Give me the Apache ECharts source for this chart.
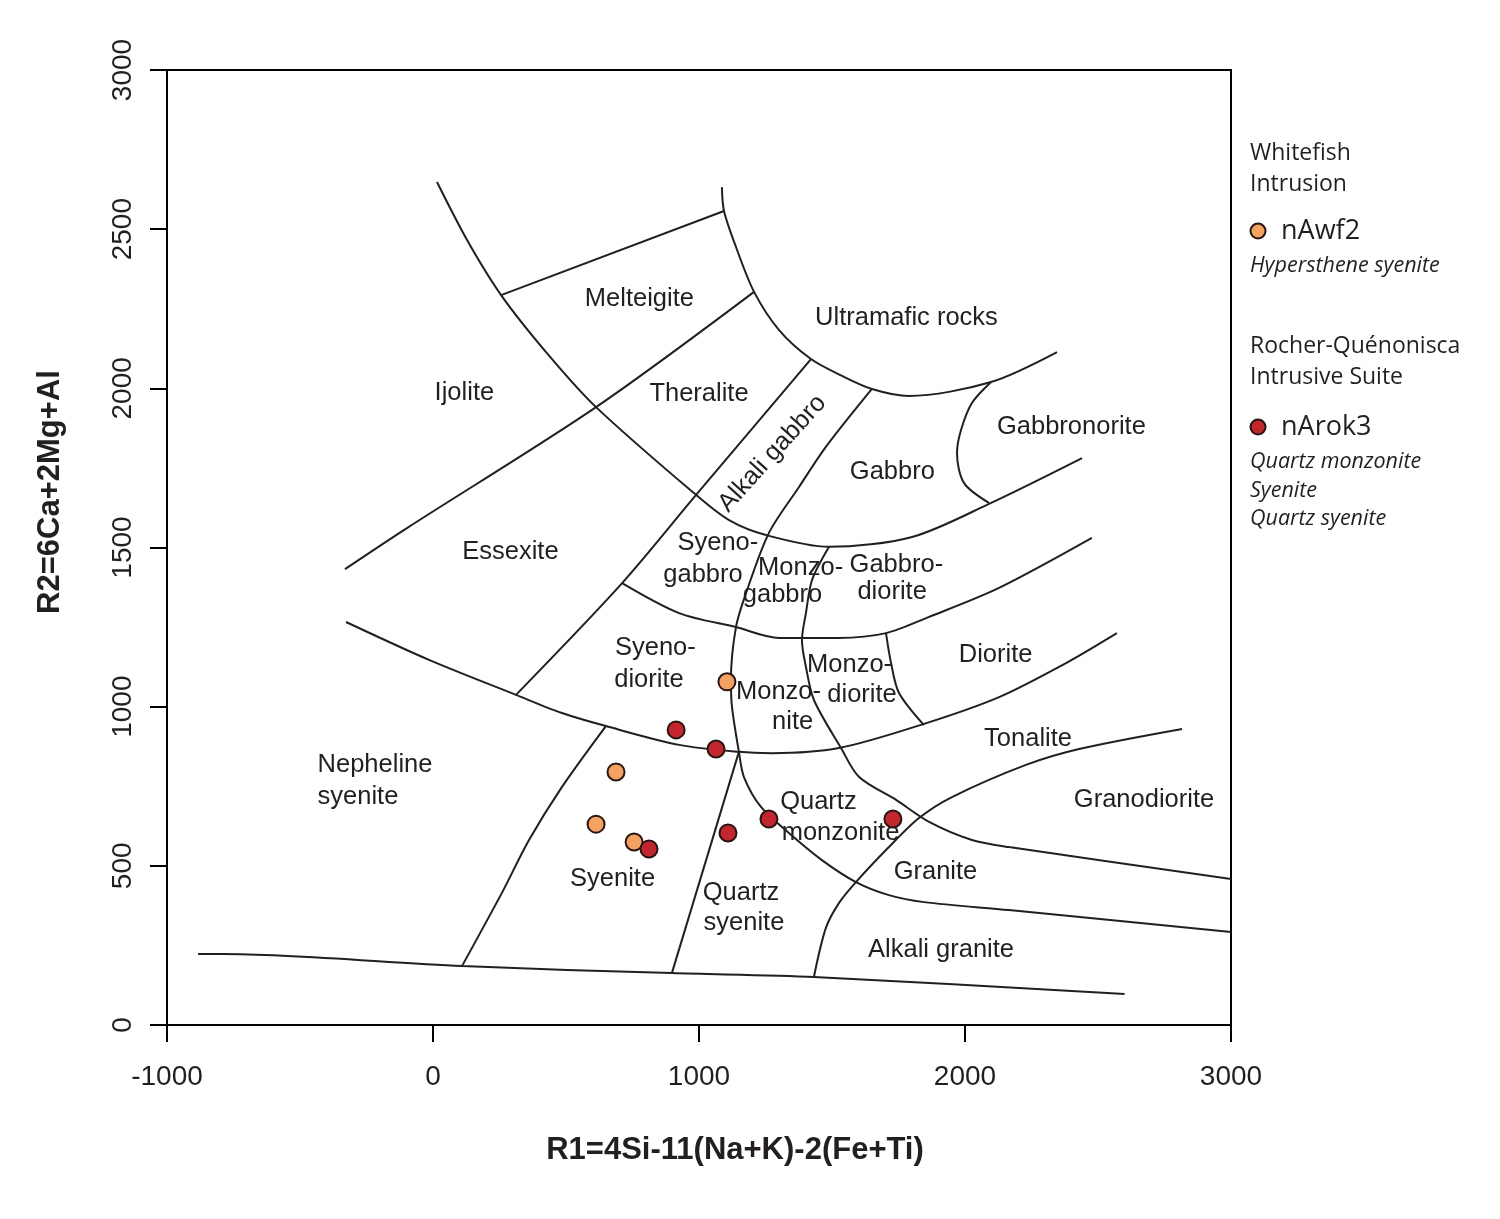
<!DOCTYPE html>
<html>
<head>
<meta charset="utf-8">
<title>R1-R2 diagram</title>
<script src="https://cdn.jsdelivr.net/npm/echarts@6/dist/echarts.min.js"></script>
<style>
  html, body { margin: 0; padding: 0; background: #fff; }
  #chart { width: 1500px; height: 1219px; }
</style>
</head>
<body>
<div id="chart"></div>
<script>
// axis ticks
const xTicks = [-1000, 0, 1000, 2000, 3000];
const yTicks = [0, 500, 1000, 1500, 2000, 2500, 3000];

// field boundaries, [R1, R2]
const baseLine = [[-883, 223], [-793, 223], [109, 185], [898, 163], [1432, 151], [2600, 97]];
const ijoliteCurve = [[15, 2648], [128, 2466], [256, 2293], [425, 2114], [613, 1941], [989, 1665],
  [1113, 1586], [1252, 1539], [1489, 1502], [1801, 1533], [2090, 1637], [2440, 1781]];
const melteigiteTop = [[256, 2293], [1094, 2557]];
const ultramaficCurve = [[1086, 2632], [1094, 2557], [1139, 2444], [1207, 2303], [1301, 2183],
  [1421, 2092], [1538, 2039], [1650, 1998], [1789, 1976], [2098, 2020], [2346, 2114]];
const theraliteBase = [[-331, 1432], [-98, 1561], [613, 1941], [1207, 2303]];
const alkaliGabbroLeft = [[1421, 2092], [989, 1665], [711, 1388], [312, 1037]];
const alkaliGabbroRight = [[1650, 1998], [1477, 1816], [1376, 1690], [1263, 1546], [1177, 1357],
  [1139, 1250], [1120, 1084], [1124, 999], [1150, 858], [1169, 779], [1233, 685], [1338, 603],
  [1462, 518], [1590, 449], [1714, 408], [1846, 386], [2165, 361], [3000, 292]];
const monzogabbroRight = [[1489, 1502], [1425, 1398], [1402, 1294], [1387, 1209], [1402, 1125],
  [1432, 1021], [1534, 870], [1602, 779], [1741, 707], [1865, 638], [2026, 581], [2165, 559], [3000, 459]];
const syenodioriteTop = [[711, 1388], [925, 1294], [1139, 1250], [1301, 1216], [1526, 1216],
  [1703, 1231], [1865, 1282], [2128, 1373], [2477, 1530]];
const dioriteLeft = [[1703, 1231], [1722, 1137], [1752, 1043], [1846, 942]];
const nephelineTop = [[-327, 1266], [-15, 1147], [312, 1037], [485, 980], [650, 939], [925, 880],
  [1150, 858], [1274, 854], [1526, 870], [1846, 946], [2128, 1030], [2380, 1137], [2571, 1231]];
const syeniteLeft = [[650, 939], [485, 748], [361, 581], [259, 415], [109, 185]];
const quartzSyeniteLeft = [[1150, 858], [898, 163]];
const tonaliteBase = [[1432, 151], [1477, 305], [1526, 383], [1590, 449], [1714, 559], [1827, 650],
  [1951, 716], [2229, 817], [2429, 867], [2816, 930]];
const gabbronoriteLeft = [[2098, 2020], [2026, 1954], [1985, 1869], [1970, 1797], [1996, 1703], [2090, 1640]];

const boundaries = [baseLine, ijoliteCurve, melteigiteTop, ultramaficCurve, theraliteBase,
  alkaliGabbroLeft, alkaliGabbroRight, monzogabbroRight, syenodioriteTop, dioriteLeft,
  nephelineTop, syeniteLeft, quartzSyeniteLeft, tonaliteBase, gabbronoriteLeft];

// field names, one entry per text line: [R1, R2, text]
const fieldNames = [
  [776, 2281, 'Melteigite'], [1780, 2221, 'Ultramafic rocks'], [118, 1985, 'Ijolite'],
  [1000, 1982, 'Theralite'], [2400, 1879, 'Gabbronorite'], [1727, 1737, 'Gabbro'],
  [291, 1486, 'Essexite'], [1071, 1514, 'Syeno-'], [1015, 1414, 'gabbro'],
  [1382, 1436, 'Monzo-'], [1314, 1351, 'gabbro'], [1742, 1445, 'Gabbro-'], [1726, 1360, 'diorite'],
  [836, 1184, 'Syeno-'], [812, 1084, 'diorite'], [1299, 1046, 'Monzo-'], [1352, 952, 'nite'],
  [1566, 1131, 'Monzo-'], [1613, 1037, 'diorite'], [2115, 1162, 'Diorite'], [2237, 898, 'Tonalite'],
  [-218, 817, 'Nepheline'], [-282, 716, 'syenite'], [2673, 707, 'Granodiorite'],
  [1449, 701, 'Quartz'], [1532, 603, 'monzonite'], [1158, 415, 'Quartz'], [1169, 320, 'syenite'],
  [675, 459, 'Syenite'], [1889, 481, 'Granite'], [1910, 236, 'Alkali granite']
];
const alkaliGabbroName = [1276, 1795, 'Alkali gabbro'];

// samples
const nAwf2 = [[1105, 1078], [688, 795], [613, 631], [756, 575]];
const nArok3 = [[914, 927], [1064, 867], [812, 553], [1109, 603], [1263, 647], [1729, 647]];

const ink = '#231f20';
const orange = '#f4a262';
const red = '#c1272d';
const rim = '#2a1512';

const chart = echarts.init(document.getElementById('chart'));

const lineSeries = boundaries.map(pts => ({
  type: 'line',
  data: pts,
  showSymbol: false,
  symbol: 'none',
  smooth: 0.3,
  silent: true,
  z: 2,
  lineStyle: { color: ink, width: 2 }
}));

const labelData = fieldNames.map(d => ({ value: [d[0], d[1]], name: d[2] }));
labelData.push({ value: [alkaliGabbroName[0], alkaliGabbroName[1]], name: alkaliGabbroName[2],
  label: { rotate: 48 } });

const sansFont = 'Liberation Sans, Arial, sans-serif';
const legendFont = '"Open Sans", "Noto Sans", sans-serif';

chart.setOption({
  animation: false,
  backgroundColor: '#fff',
  grid: { left: 167, right: 269, top: 70, bottom: 194, show: true, borderColor: '#000', borderWidth: 2 },
  xAxis: {
    type: 'value', min: xTicks[0], max: xTicks[xTicks.length - 1], interval: 1000,
    axisLine: { show: true, onZero: false, lineStyle: { color: '#000', width: 2 } },
    axisTick: { show: true, length: 17, lineStyle: { color: '#000', width: 2 } },
    axisLabel: { margin: 38, fontSize: 28, color: ink, fontFamily: sansFont, formatter: v => String(v) },
    splitLine: { show: false }
  },
  yAxis: {
    type: 'value', min: yTicks[0], max: yTicks[yTicks.length - 1], interval: 500,
    axisLine: { show: true, onZero: false, lineStyle: { color: '#000', width: 2 } },
    axisTick: { show: true, length: 17, lineStyle: { color: '#000', width: 2 } },
    axisLabel: { margin: 30, fontSize: 28, color: ink, fontFamily: sansFont, rotate: 90, formatter: v => String(v) },
    splitLine: { show: false }
  },
  series: [
    ...lineSeries,
    {
      type: 'scatter',
      data: labelData,
      symbolSize: 1,
      itemStyle: { color: 'rgba(0,0,0,0)', opacity: 1 },
      silent: true,
      z: 3,
      label: {
        show: true, position: 'inside', formatter: '{b}', opacity: 1,
        fontSize: 25.5, color: ink, fontFamily: sansFont, textBorderWidth: 0
      }
    },
    {
      name: 'nAwf2', type: 'scatter', data: nAwf2, symbolSize: 17, z: 5,
      itemStyle: { color: orange, borderColor: rim, borderWidth: 2, opacity: 1 }
    },
    {
      name: 'nArok3', type: 'scatter', data: nArok3, symbolSize: 17, z: 5,
      itemStyle: { color: red, borderColor: rim, borderWidth: 2, opacity: 1 }
    }
  ],
  graphic: [
    { type: 'text', x: 735, y: 1150, style: { text: 'R1=4Si-11(Na+K)-2(Fe+Ti)', font: 'bold 31px ' + sansFont, fill: ink, textAlign: 'center', textVerticalAlign: 'middle' } },
    { type: 'text', x: 50, y: 492, rotation: Math.PI / 2, style: { text: 'R2=6Ca+2Mg+Al', font: 'bold 31px ' + sansFont, fill: ink, textAlign: 'center', textVerticalAlign: 'middle' } },

    { type: 'text', x: 1250, y: 153, style: { text: 'Whitefish', font: '23px ' + legendFont, fill: ink, textVerticalAlign: 'middle' } },
    { type: 'text', x: 1250, y: 184, style: { text: 'Intrusion', font: '23px ' + legendFont, fill: ink, textVerticalAlign: 'middle' } },
    { type: 'circle', shape: { cx: 1258, cy: 231, r: 7.5 }, style: { fill: orange, stroke: rim, lineWidth: 2 } },
    { type: 'text', x: 1281, y: 231, style: { text: 'nAwf2', font: '27px ' + legendFont, fill: ink, textVerticalAlign: 'middle' } },
    { type: 'text', x: 1250, y: 266, style: { text: 'Hypersthene syenite', font: 'italic 21.5px ' + legendFont, fill: ink, textVerticalAlign: 'middle' } },

    { type: 'text', x: 1250, y: 346, style: { text: 'Rocher-Quénonisca', font: '23px ' + legendFont, fill: ink, textVerticalAlign: 'middle' } },
    { type: 'text', x: 1250, y: 377, style: { text: 'Intrusive Suite', font: '23px ' + legendFont, fill: ink, textVerticalAlign: 'middle' } },
    { type: 'circle', shape: { cx: 1258, cy: 427, r: 7.5 }, style: { fill: red, stroke: rim, lineWidth: 2 } },
    { type: 'text', x: 1281, y: 427, style: { text: 'nArok3', font: '27px ' + legendFont, fill: ink, textVerticalAlign: 'middle' } },
    { type: 'text', x: 1250, y: 462, style: { text: 'Quartz monzonite', font: 'italic 21.5px ' + legendFont, fill: ink, textVerticalAlign: 'middle' } },
    { type: 'text', x: 1250, y: 491, style: { text: 'Syenite', font: 'italic 21.5px ' + legendFont, fill: ink, textVerticalAlign: 'middle' } },
    { type: 'text', x: 1250, y: 519, style: { text: 'Quartz syenite', font: 'italic 21.5px ' + legendFont, fill: ink, textVerticalAlign: 'middle' } }
  ]
});
</script>
</body>
</html>
